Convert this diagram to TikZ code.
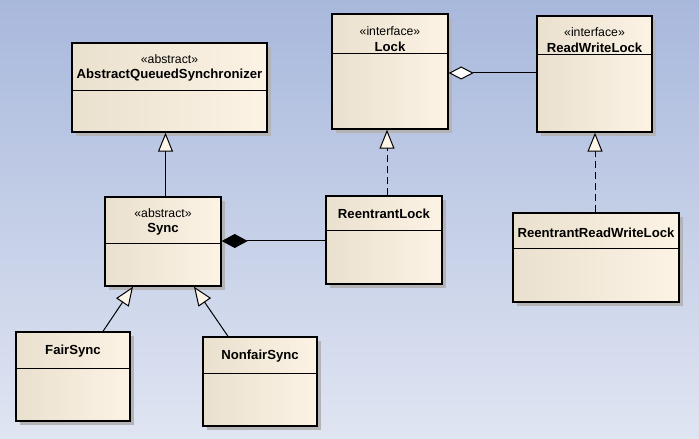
\documentclass[tikz,border=0pt]{standalone}
\usepackage{fontspec}
\setmainfont{Liberation Sans}
\usetikzlibrary{arrows.meta,fit}
\definecolor{bgtop}{RGB}{168,184,220}
\definecolor{bgbot}{RGB}{224,229,242}
\definecolor{boxl}{RGB}{234,224,206}
\definecolor{boxr}{RGB}{252,243,229}
\definecolor{shadowc}{RGB}{180,180,182}
\definecolor{tipfill}{RGB}{252,245,232}
\tikzset{
  classbox/.style={draw=black, line width=1.4bp, left color=boxl, right color=boxr, inner sep=0pt},
  sepline/.style={draw=black, line width=1bp},
  stereo/.style={font=\fontsize{12.3}{14}\selectfont, inner sep=0pt},
  cname/.style={font=\fontsize{13.2}{15}\selectfont\bfseries, inner sep=0pt},
  conn/.style={draw=black, line width=1bp},
  gen/.style={conn, -{Triangle[open, length=19bp, width=15bp, fill=tipfill, line width=1bp]}},
  real/.style={gen, dash pattern=on 7bp off 4bp},
  aggr/.style={conn, -{Diamond[open, length=25bp, width=13bp, fill=white, line width=1bp]}},
  comp/.style={conn, -{Diamond[length=26bp, width=14bp, fill=black]}},
}
\newcommand{\umlbox}[6]{%
  \fill[shadowc] (#2+4,#3+4) rectangle (#4+4,#5+4);
  \coordinate (#1-nw) at (#2,#3);
  \coordinate (#1-se) at (#4,#5);
  \node[classbox, fit=(#1-nw)(#1-se)] (#1) {};
  \draw[sepline] (#2,#6) -- (#4,#6);
}
\begin{document}
\begin{tikzpicture}[x=1bp,y=-1bp]
\shade[top color=bgtop, bottom color=bgbot] (0,0) rectangle (699,439);
\useasboundingbox (0,0) rectangle (699,439);

\umlbox{aqs}{72}{43}{267}{132}{91}
\node[stereo] (aqsst) at (169.5,59) {«abstract»};
\node[cname] (aqsnm) at (169.5,75) {AbstractQueuedSynchronizer};

\umlbox{lock}{332}{14}{448}{129}{54}
\node[stereo] (lockst) at (390,31) {«interface»};
\node[cname] (locknm) at (390,47) {Lock};

\umlbox{rwl}{537}{16}{652}{132}{55}
\node[stereo] (rwlst) at (594.5,32) {«interface»};
\node[cname] (rwlnm) at (594.5,48) {ReadWriteLock};

\umlbox{sync}{105}{197}{221}{286}{244}
\node[stereo] (syncst) at (163,213) {«abstract»};
\node[cname] (syncnm) at (163,229) {Sync};

\umlbox{rl}{326}{196}{442}{284}{231}
\node[cname] (rlnm) at (384,214) {ReentrantLock};

\umlbox{rrwl}{513}{213}{679}{302}{249}
\node[cname] (rrwlnm) at (596,233) {ReentrantReadWriteLock};

\umlbox{fair}{16}{332}{130}{421}{368}
\node[cname] (fairnm) at (73,351) {FairSync};

\umlbox{nonfair}{203}{337}{317}{426}{373}
\node[cname] (nonfairnm) at (260,356) {NonfairSync};

% connectors
\draw[gen] (sync.north -| 165.5,0) -- (aqs.south -| 165.5,0);
\draw[gen] (fair.north -| 103,0) -- (sync.south -| 133,0);
\draw[gen] (nonfair.north -| 228,0) -- (sync.south -| 194,0);
\draw[real] (rl.north -| 387,0) -- (lock.south -| 387,0);
\draw[real] (rrwl.north -| 595,0) -- (rwl.south -| 595,0);
\draw[aggr] (rwl.west |- 0,73) -- (lock.east |- 0,73);
\draw[comp] (rl.west |- 0,241) -- (sync.east |- 0,241);
\end{tikzpicture}
\end{document}
